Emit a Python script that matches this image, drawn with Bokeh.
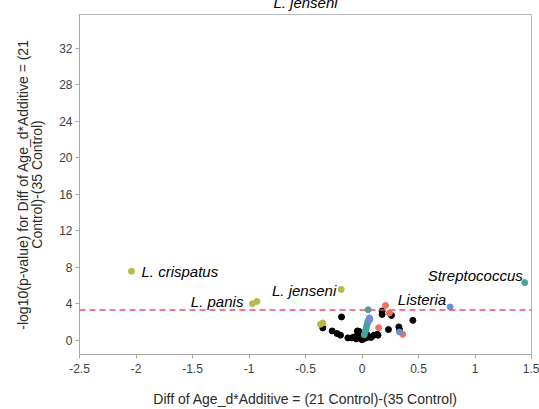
from bokeh.plotting import figure
from bokeh.models import Span, Label, Range1d, FixedTicker
from bokeh.embed import file_html
from bokeh.resources import INLINE

# ---- data: effect size (x) and -log10(p) (y) per taxon, grouped by genus colour ----
lacto_x = [-2.04, -0.97, -0.93, -0.184, -0.367, -0.347]
lacto_y = [7.56, 4.00, 4.25, 5.56, 1.75, 1.90]

strep_x = [1.44, 0.055, 0.031, 0.035, 0.040, 0.045, 0.050, 0.055, 0.020]
strep_y = [6.32, 3.34, 1.00, 1.20, 1.45, 1.70, 1.95, 2.15, 0.60]

list_x = [0.78, 0.332, 0.058, 0.063, 0.066, 0.070]
list_y = [3.64, 0.91, 2.10, 2.30, 2.45, 2.30]

other_x = [0.208, 0.243, 0.147, 0.361]
other_y = [3.81, 2.98, 1.38, 0.65]

rest_x = [-0.347, -0.264, -0.220, -0.190, -0.181, -0.125, -0.092, -0.063, -0.032,
          -0.027, -0.041, 0.003, -0.010, 0.010, 0.020, 0.017, 0.035, 0.045, 0.060,
          0.080, 0.105, 0.135, 0.142, 0.178, 0.178, 0.261, 0.450, 0.234, 0.326,
          0.332, -0.050, -0.075, 0.000]
rest_y = [1.35, 1.02, 0.73, 0.55, 2.55, 0.26, 0.26, 0.37, 0.55,
          0.98, 1.02, 0.48, 0.20, 0.15, 0.30, 0.44, 0.25, 0.60, 0.37,
          0.30, 0.55, 0.65, 0.55, 3.20, 2.83, 2.72, 2.18, 1.17, 1.46,
          1.17, 0.15, 0.30, 0.05]

threshold = 3.3

x_ticks = [-2.5, -2, -1.5, -1, -0.5, 0, 0.5, 1, 1.5]
x_tick_labels = ["-2.5", "-2", "-1.5", "-1", "-0.5", "0", "0.5", "1", "1.5"]
y_ticks = [0, 4, 8, 12, 16, 20, 24, 28, 32]
y_tick_labels = ["0", "4", "8", "12", "16", "20", "24", "28", "32"]

title_text = "L. jenseni"
x_title = "Diff of Age_d*Additive = (21 Control)-(35 Control)"
y_title = "-log10(p-value) for Diff of Age_d*Additive = (21\nControl)-(35 Control)"

# named taxa: (label, group x, group y, index in group)
named = [
    ("L. crispatus", lacto_x, lacto_y, 0),
    ("L. panis", lacto_x, lacto_y, 1),
    ("L. jenseni", lacto_x, lacto_y, 3),
    ("Streptococcus", strep_x, strep_y, 0),
    ("Listeria", list_x, list_y, 0),
]
# label placement relative to its point (screen px)
placement = {
    "L. crispatus": ("left", 10, 0),
    "L. panis": ("right", -9, 2),
    "L. jenseni": ("right", -5, -1),
    "Streptococcus": ("right", -2, 7),
    "Listeria": ("right", -4, 7.5),
}

FONT = "Liberation Sans"
TOP_SHIFT = 16  # title panel partly scrolled above the page edge

p = figure(width=539, height=409 + TOP_SHIFT, output_backend="svg",
           toolbar_location=None,
           x_range=Range1d(-2.5, 1.5), y_range=Range1d(-1.56, 35.67),
           min_border_left=79, min_border_right=8, min_border_top=14 + TOP_SHIFT,
           min_border_bottom=53, background_fill_color="white",
           border_fill_color="white")
p.margin = (-TOP_SHIFT, 0, 0, 0)
p.grid.visible = False
p.outline_line_color = "#b8b8b8"
p.outline_line_width = 1

p.title.text = title_text
p.title.align = "center"
p.title.text_font = FONT
p.title.text_font_style = "italic"
p.title.text_font_size = "15px"
p.title.text_color = "black"
p.title.standoff = 8

for ax, ticks, labels in ((p.xaxis[0], x_ticks, x_tick_labels),
                          (p.yaxis[0], y_ticks, y_tick_labels)):
    ax.ticker = FixedTicker(ticks=ticks)
    ax.major_label_overrides = {t: l for t, l in zip(ticks, labels)}
    ax.minor_tick_line_color = None
    ax.axis_line_color = "#a8a8a8"
    ax.major_tick_line_color = "#a8a8a8"
    ax.major_tick_in = 0
    ax.major_tick_out = 4
    ax.major_label_text_font = FONT
    ax.major_label_text_font_size = "12px"
    ax.major_label_text_color = "#404040"
    ax.axis_label_text_font = FONT
    ax.axis_label_text_font_style = "normal"
    ax.axis_label_text_font_size = "14px"
    ax.axis_label_text_color = "#2a2a2a"

p.xaxis.axis_label = x_title
p.xaxis.axis_label_text_line_height = 1.0
p.xaxis.major_label_standoff = 5
p.xaxis.axis_label_standoff = 15
p.yaxis.axis_label = y_title
p.yaxis.axis_label_text_line_height = 0.88
p.yaxis.major_label_standoff = 3
p.yaxis.axis_label_standoff = 11

p.add_layout(Span(location=threshold, dimension="width", line_color="#e8506a",
                  line_width=1.5, line_dash="6 4"))

p.scatter(rest_x, rest_y, size=6, color="black")
p.scatter(other_x, other_y, size=6, color="#e8735f")
p.scatter(strep_x, strep_y, size=6, color="#45a59a")
p.scatter(list_x, list_y, size=6, color="#6b8fd3")
p.scatter(lacto_x, lacto_y, size=6, color="#b8b84c")

for name, gx, gy, i in named:
    align, dx, dy = placement[name]
    p.add_layout(Label(x=gx[i], y=gy[i], text=name, x_offset=dx, y_offset=dy,
                       text_align=align, text_baseline="middle",
                       text_font=FONT, text_font_style="italic",
                       text_font_size="15px", text_color="black"))

open("out.html", "w").write(file_html(p, INLINE))
